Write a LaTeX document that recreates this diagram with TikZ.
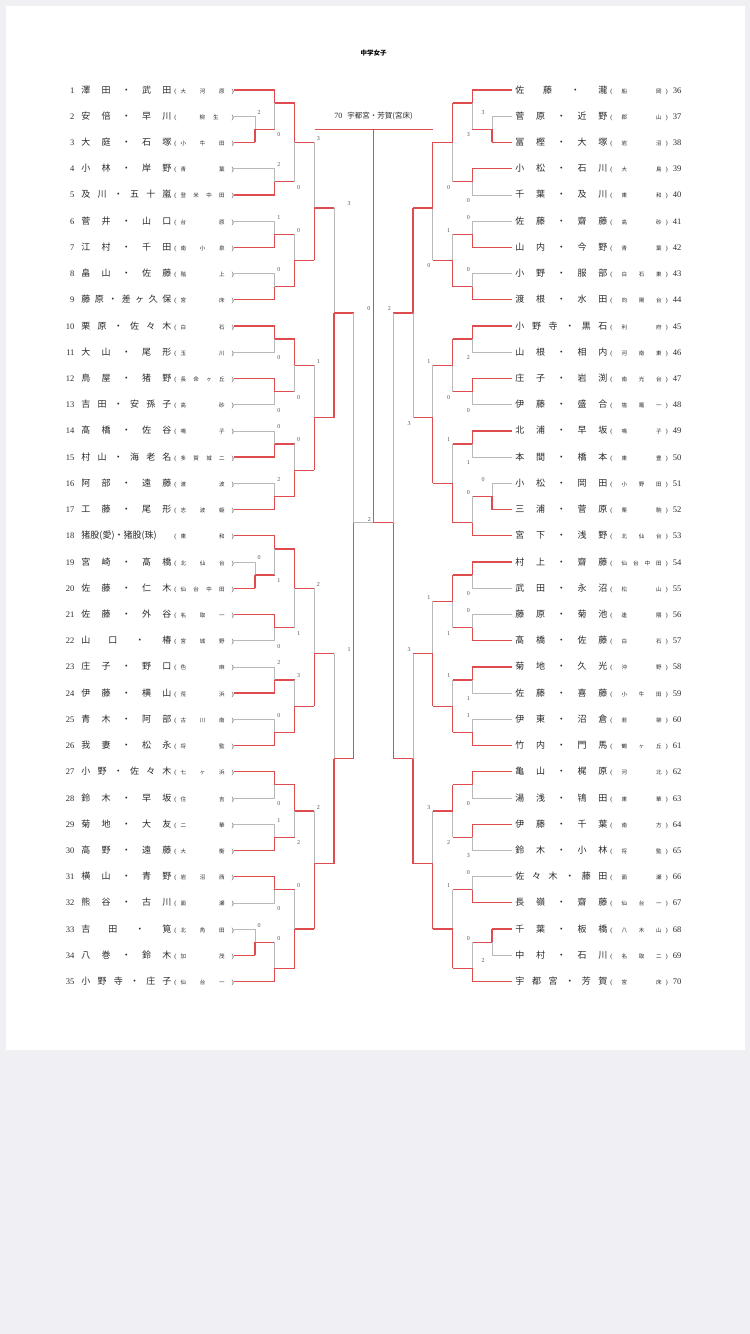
\documentclass[tikz,border=0pt]{standalone}
\usepackage{fontspec}
\setmainfont{Liberation Serif}
\newfontfamily\jp{Noto Sans CJK JP}
\usetikzlibrary{positioning}
\definecolor{pagebg}{HTML}{EFEFF4}
\definecolor{winc}{HTML}{E04B50}
\definecolor{losec}{HTML}{B9B9B9}
\definecolor{scorec}{HTML}{555555}
\definecolor{inkc}{HTML}{2A2A2A}
\newcommand\yr[1]{90+(#1-1)*26.22}
\newcommand\nmf{\jp\fontsize{9}{10}\selectfont}
\newcommand\scf{\jp\fontsize{5.5}{6}\selectfont}
\newcommand\pf{\fontsize{6.5}{7}\selectfont}
\tikzset{
  win/.style={winc,line width=1.3pt},
  lose/.style={losec,line width=0.6pt},
  st1/.style={win},
  st0/.style={lose},
  score/.style={font=\fontsize{6}{6}\selectfont,text=scorec,inner sep=0pt},
  lentry/.style={anchor=east,inner sep=0pt,text=inkc,font=\fontsize{8.5}{9}\selectfont},
  rentry/.style={anchor=west,inner sep=0pt,text=inkc,font=\fontsize{8.5}{9}\selectfont}
}
\begin{document}
\begin{tikzpicture}[x=1pt,y=-1pt]
\useasboundingbox (0,0) rectangle (750,1334);
\fill[pagebg] (0,0) rectangle (750,1334);
\fill[white,draw=black!6] (5,5) rectangle (745,1050);
% title and winner
\node[font=\jp\bfseries\fontsize{6.5}{7}\selectfont] (title) at (373.5,53) {中学女子};
\node[inner sep=0pt,text=inkc] (champ) at (373.5,116) {\fontsize{8}{9}\selectfont 70\hspace{5pt}{\jp\fontsize{7.5}{8}\selectfont 宇都宮・芳賀(宮床)}};
% left entries
\foreach \nr/\nm/\sch/\lv/\wn in {
 1/澤 田 ・ 武 田/大 河 原/5/1,
 2/安 倍 ・ 早 川/\hfill 柳\hspace{8pt}生\hspace{6pt}/6/0,
 3/大 庭 ・ 石 塚/小 牛 田/6/1,
 4/小 林 ・ 岸 野/青 葉/5/0,
 5/及 川 ・ 五 十 嵐/登 米 中 田/5/1,
 6/菅 井 ・ 山 口/台 原/5/0,
 7/江 村 ・ 千 田/南 小 泉/5/1,
 8/畠 山 ・ 佐 藤/階 上/5/0,
 9/藤 原 ・ 差 ヶ 久 保/宮 床/5/1,
 10/栗 原 ・ 佐 々 木/白 石/5/1,
 11/大 山 ・ 尾 形/玉 川/5/0,
 12/鳥 屋 ・ 猪 野/長 命 ヶ 丘/5/1,
 13/吉 田 ・ 安 孫 子/高 砂/5/0,
 14/髙 橋 ・ 佐 谷/鳴 子/5/0,
 15/村 山 ・ 海 老 名/多 賀 城 二/5/1,
 16/阿 部 ・ 遠 藤/渡 波/5/0,
 17/工 藤 ・ 尾 形/志 波 姫/5/1,
 18/猪股(愛)・猪股(珠)/東 和/5/1,
 19/宮 崎 ・ 髙 橋/北 仙 台/6/0,
 20/佐 藤 ・ 仁 木/仙 台 中 田/6/1,
 21/佐 藤 ・ 外 谷/名 取 一/5/1,
 22/山 口 ・ 椿/宮 城 野/5/0,
 23/庄 子 ・ 野 口/色 麻/5/0,
 24/伊 藤 ・ 横 山/荒 浜/5/1,
 25/青 木 ・ 阿 部/古 川 南/5/0,
 26/我 妻 ・ 松 永/将 監/5/1,
 27/小 野 ・ 佐 々 木/七 ヶ 浜/5/1,
 28/鈴 木 ・ 早 坂/住 吉/5/0,
 29/菊 地 ・ 大 友/二 華/5/0,
 30/高 野 ・ 遠 藤/大 衡/5/1,
 31/横 山 ・ 青 野/岩 沼 西/5/1,
 32/熊 谷 ・ 古 川/面 瀬/5/0,
 33/吉 田 ・ 筧/北 角 田/6/0,
 34/八 巻 ・ 鈴 木/加 茂/6/1,
 35/小 野 寺 ・ 庄 子/仙 台 一/5/1}{
  \pgfmathsetmacro\yy{\yr{\nr}}
  \pgfmathsetmacro\xa{373.5-\lv*19.75}
  \node[lentry] (e\nr) at (234,\yy) {\makebox[10pt][r]{\nr}\hspace{7pt}\makebox[90pt][s]{\nmf\nm}\hspace{3pt}{\pf(}\hspace{4pt}\makebox[44pt][s]{\scf\sch}\hspace{7pt}{\pf)}\hspace{2.5pt}};
  \draw[st\wn] (e\nr.east) -- (\xa,\yy);
}
% right entries
\foreach \nr/\nm/\sch/\lv/\wn in {
 36/佐 藤 ・ 瀧/船 岡/5/1,
 37/菅 原 ・ 近 野/郡 山/6/0,
 38/冨 樫 ・ 大 塚/岩 沼/6/1,
 39/小 松 ・ 石 川/大 島/5/1,
 40/千 葉 ・ 及 川/東 和/5/0,
 41/佐 藤 ・ 齋 藤/高 砂/5/0,
 42/山 内 ・ 今 野/青 葉/5/1,
 43/小 野 ・ 服 部/白 石 東/5/0,
 44/渡 根 ・ 水 田/向 陽 台/5/1,
 45/小 野 寺 ・ 黒 石/利 府/5/1,
 46/山 根 ・ 相 内/河 南 東/5/0,
 47/庄 子 ・ 岩 渕/南 光 台/5/1,
 48/伊 藤 ・ 盛 合/塩 竈 一/5/0,
 49/北 浦 ・ 早 坂/鳴 子/5/1,
 50/本 間 ・ 橋 本/東 豊/5/0,
 51/小 松 ・ 岡 田/小 野 田/6/0,
 52/三 浦 ・ 菅 原/栗 駒/6/1,
 53/宮 下 ・ 浅 野/北 仙 台/5/1,
 54/村 上 ・ 齋 藤/仙 台 中 田/5/1,
 55/武 田 ・ 永 沼/松 山/5/0,
 56/藤 原 ・ 菊 池/逢 隈/5/0,
 57/髙 橋 ・ 佐 藤/白 石/5/1,
 58/菊 地 ・ 久 光/沖 野/5/1,
 59/佐 藤 ・ 喜 藤/小 牛 田/5/0,
 60/伊 東 ・ 沼 倉/若 柳/5/0,
 61/竹 内 ・ 門 馬/鶴 ヶ 丘/5/1,
 62/亀 山 ・ 梶 原/河 北/5/1,
 63/湯 浅 ・ 鴇 田/東 華/5/0,
 64/伊 藤 ・ 千 葉/南 方/5/1,
 65/鈴 木 ・ 小 林/将 監/5/0,
 66/佐 々 木 ・ 藤 田/面 瀬/5/0,
 67/長 嶺 ・ 齋 藤/仙 台 一/5/1,
 68/千 葉 ・ 板 橋/八 木 山/6/1,
 69/中 村 ・ 石 川/名 取 二/6/0,
 70/宇 都 宮 ・ 芳 賀/宮 床/5/1}{
  \pgfmathsetmacro\yy{\yr{\nr-35}}
  \pgfmathsetmacro\xa{373.5+\lv*19.75}
  \node[rentry] (e\nr) at (511.75,\yy) {\hspace{3.5pt}\makebox[92pt][s]{\nmf\nm}\hspace{3pt}{\pf(}\hspace{9pt}\makebox[40pt][s]{\scf\sch}\hspace{4pt}{\pf)}\hspace{5pt}\nr};
  \draw[st\wn] (e\nr.west) -- (\xa,\yy);
}
% matches: side/level/top/bottom/out/winner(0 top,1 bottom)/loser score
\foreach \sd/\lv/\ut/\ub/\uo/\wn/\scr [count=\i] in {
 -1/6/2/3/2.5/1/2, -1/5/1/2.5/1.5/0/0, -1/5/4/5/4.5/1/2, -1/4/1.5/4.5/3/0/0,
 -1/5/6/7/6.5/1/1, -1/5/8/9/8.5/1/0, -1/4/6.5/8.5/7.5/1/0, -1/3/3/7.5/5.5/1/3,
 -1/5/10/11/10.5/0/0, -1/5/12/13/12.5/0/0, -1/4/10.5/12.5/11.5/0/0,
 -1/5/14/15/14.5/1/0, -1/5/16/17/16.5/1/2, -1/4/14.5/16.5/15.5/1/0,
 -1/3/11.5/15.5/13.5/1/1, -1/2/5.5/13.5/9.5/1/3,
 -1/6/19/20/19.5/1/0, -1/5/18/19.5/18.5/0/1, -1/5/21/22/21.5/0/0, -1/4/18.5/21.5/20/0/1,
 -1/5/23/24/23.5/1/2, -1/5/25/26/25.5/1/0, -1/4/23.5/25.5/24.5/1/3, -1/3/20/24.5/22.5/1/2,
 -1/5/27/28/27.5/0/0, -1/5/29/30/29.5/1/1, -1/4/27.5/29.5/28.5/0/2,
 -1/5/31/32/31.5/0/0, -1/6/33/34/33.5/1/0, -1/5/33.5/35/34.5/1/0, -1/4/31.5/34.5/33/1/0,
 -1/3/28.5/33/30.5/1/2, -1/2/22.5/30.5/26.5/1/1, -1/1/9.5/26.5/17.5/1/0,
 1/6/2/3/2.5/1/3, 1/5/1/2.5/1.5/0/3, 1/5/4/5/4.5/0/0, 1/4/1.5/4.5/3/0/0,
 1/5/6/7/6.5/1/0, 1/5/8/9/8.5/1/0, 1/4/6.5/8.5/7.5/1/1, 1/3/3/7.5/5.5/0/0,
 1/5/10/11/10.5/0/2, 1/5/12/13/12.5/0/0, 1/4/10.5/12.5/11.5/0/0,
 1/5/14/15/14.5/0/1, 1/6/16/17/16.5/1/0, 1/5/16.5/18/17.5/1/0, 1/4/14.5/17.5/16/1/1,
 1/3/11.5/16/13.5/1/1, 1/2/5.5/13.5/9.5/0/3,
 1/5/19/20/19.5/0/0, 1/5/21/22/21.5/1/0, 1/4/19.5/21.5/20.5/0/1,
 1/5/23/24/23.5/0/1, 1/5/25/26/25.5/1/1, 1/4/23.5/25.5/24.5/1/1, 1/3/20.5/24.5/22.5/1/1,
 1/5/27/28/27.5/0/0, 1/5/29/30/29.5/0/3, 1/4/27.5/29.5/28.5/0/2,
 1/5/31/32/31.5/1/0, 1/6/33/34/33.5/0/2, 1/5/33.5/35/34.5/1/0, 1/4/31.5/34.5/33/1/1,
 1/3/28.5/33/30.5/1/3, 1/2/22.5/30.5/26.5/1/3, 1/1/9.5/26.5/17.5/1/2}{
  \pgfmathsetmacro\xa{373.5+\sd*\lv*19.75}
  \pgfmathsetmacro\xb{373.5+\sd*(\lv-1)*19.75}
  \pgfmathsetmacro\uw{\wn==1 ? \ub : \ut}
  \pgfmathsetmacro\ul{\wn==1 ? \ut : \ub}
  \pgfmathsetmacro\xs{\xa-(\sd)*(\sd<0 ? (\lv<3 ? 15 : 4) : (\lv>5 ? 9 : 4))}
  \pgfmathsetmacro\ys{\wn==1 ? \yr{\ut}-4 : \yr{\ub}+5.5}
  \draw[lose] (\xa,{\yr{\ul}}) -- (\xa,{\yr{\uo}});
  \draw[win] (\xa,{\yr{\uw}}) -- (\xa,{\yr{\uo}});
  \ifnum\lv>1 \draw[win] (\xa,{\yr{\uo}}) -- (\xb,{\yr{\uo}}); \fi
  \node[score] (sc\i) at (\xs,\ys) {\scr};
}
% final
\coordinate (fL) at (353.75,{\yr{17.5}});
\coordinate (fR) at (393.25,{\yr{17.5}});
\coordinate (fM) at (373.5,{\yr{17.5}});
\coordinate (fT) at (373.5,{\yr{2.5}});
\coordinate (cL) at (315,{\yr{2.5}});
\coordinate (cR) at (432.5,{\yr{2.5}});
\draw[lose] (fL) -- (fM);
\draw[win] (fR) -- (fM) -- (fT);
\draw[win] (cL) -- (cR);
\node[score] (scF) at (369.3,{\yr{17.5}-3.5}) {2};
\end{tikzpicture}
\end{document}
